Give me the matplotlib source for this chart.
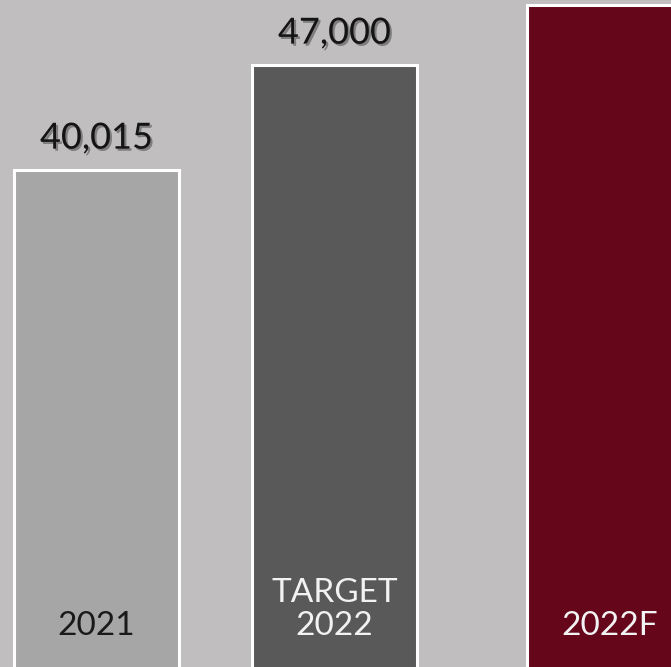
import numpy as np
import matplotlib.pyplot as plt
import matplotlib.patheffects as pe

# Данные
categories = ['2021', 'TARGET\n2022', '2022F']
values = [40015, 47000, 51000]
value_labels = ['40,015', '47,000', '']
bar_colors = ['#a6a6a6', '#595959', '#65061a']
text_colors = ['#1a1a1a', '#f2f2f2', '#f2f2f2']

# Позиции столбцов (прогноз стоит чуть дальше)
x = np.arange(len(values)) + np.array([0, 0, 0.155])
width = 0.693

fig = plt.figure(figsize=(6.71, 6.67), dpi=100)
fig.patch.set_facecolor('#c0bebf')
ax = fig.add_axes([0, 0, 1, 1])
ax.set_facecolor('#c0bebf')

bars = ax.bar(x, values, width=width, color=bar_colors,
              edgecolor='white', linewidth=2.2)

ax.set_xlim(-0.4055, 2.414)
ax.set_ylim(6950, 51320)
ax.axis('off')

shadow = [pe.SimplePatchShadow(offset=(1.5, -1.5), alpha=0.35), pe.Normal()]

# Подписи значений над столбцами
for xi, v, lab in zip(x, values, value_labels):
    if lab:
        ax.annotate(lab, (xi, v), xytext=(0, 11), textcoords='offset points',
                    ha='center', va='bottom', fontsize=26, family='Lato',
                    color='#141414', path_effects=shadow)

# Подписи категорий внутри столбцов
for xi, cat, c in zip(x, categories, text_colors):
    ax.annotate(cat, (xi, 6950), xytext=(0, 19), textcoords='offset points',
                ha='center', va='bottom', fontsize=24, family='Lato',
                color=c, linespacing=1.1)

fig.savefig('out.png', dpi=100, facecolor=fig.get_facecolor())
